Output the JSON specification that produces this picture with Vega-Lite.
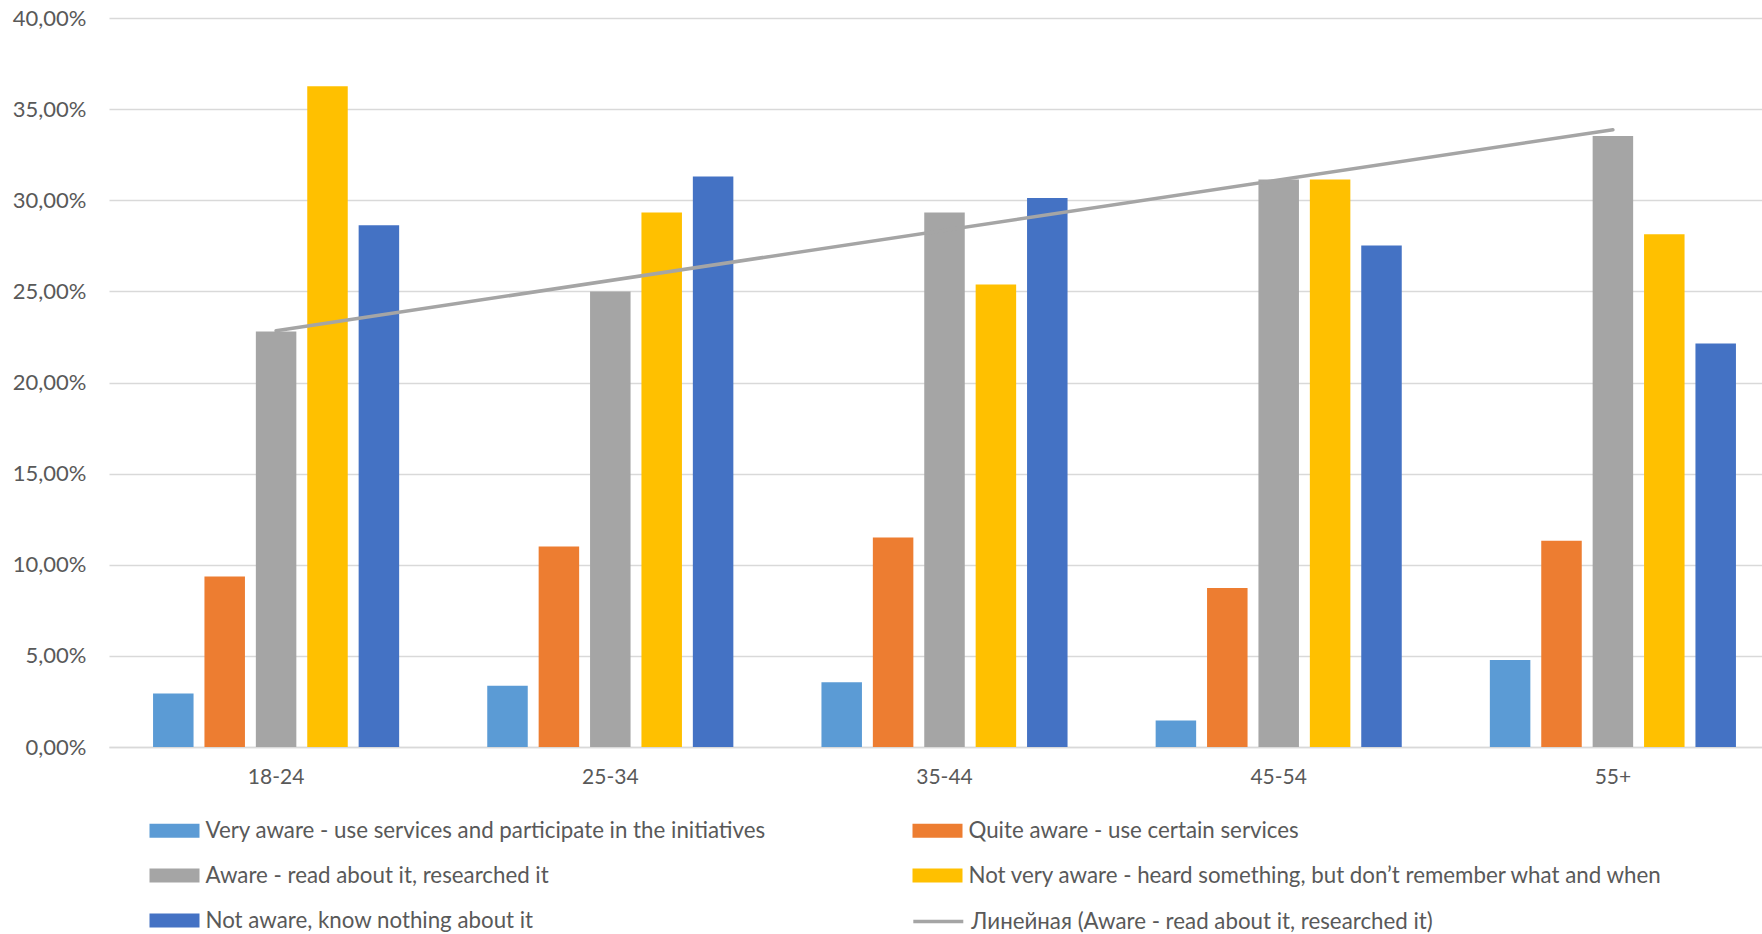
{
  "$schema": "https://vega.github.io/schema/vega-lite/v6.json",
  "autosize": {"type": "none"},
  "padding": {"left": 109, "top": 18, "right": 0, "bottom": 187},
  "width": 1653,
  "height": 729,
  "background": "white",
  "datasets": {
    "bars": [
      {"age": "18-24", "series": "Very aware - use services and participate in the initiatives", "value": 2.93},
      {"age": "18-24", "series": "Quite aware - use certain services", "value": 9.35},
      {"age": "18-24", "series": "Aware - read about it, researched it", "value": 22.8},
      {"age": "18-24", "series": "Not very aware - heard something, but don’t remember what and when", "value": 36.25},
      {"age": "18-24", "series": "Not aware, know nothing about it", "value": 28.63},
      {"age": "25-34", "series": "Very aware - use services and participate in the initiatives", "value": 3.36},
      {"age": "25-34", "series": "Quite aware - use certain services", "value": 11.0},
      {"age": "25-34", "series": "Aware - read about it, researched it", "value": 25.0},
      {"age": "25-34", "series": "Not very aware - heard something, but don’t remember what and when", "value": 29.33},
      {"age": "25-34", "series": "Not aware, know nothing about it", "value": 31.3},
      {"age": "35-44", "series": "Very aware - use services and participate in the initiatives", "value": 3.55},
      {"age": "35-44", "series": "Quite aware - use certain services", "value": 11.5},
      {"age": "35-44", "series": "Aware - read about it, researched it", "value": 29.33},
      {"age": "35-44", "series": "Not very aware - heard something, but don’t remember what and when", "value": 25.38},
      {"age": "35-44", "series": "Not aware, know nothing about it", "value": 30.13},
      {"age": "45-54", "series": "Very aware - use services and participate in the initiatives", "value": 1.45},
      {"age": "45-54", "series": "Quite aware - use certain services", "value": 8.73},
      {"age": "45-54", "series": "Aware - read about it, researched it", "value": 31.14},
      {"age": "45-54", "series": "Not very aware - heard something, but don’t remember what and when", "value": 31.14},
      {"age": "45-54", "series": "Not aware, know nothing about it", "value": 27.52},
      {"age": "55+", "series": "Very aware - use services and participate in the initiatives", "value": 4.78},
      {"age": "55+", "series": "Quite aware - use certain services", "value": 11.32},
      {"age": "55+", "series": "Aware - read about it, researched it", "value": 33.52},
      {"age": "55+", "series": "Not very aware - heard something, but don’t remember what and when", "value": 28.14},
      {"age": "55+", "series": "Not aware, know nothing about it", "value": 22.14}
    ],
    "trend": [
      {"age": "18-24", "trend": "Линейная (Aware - read about it, researched it)", "value": 22.84},
      {"age": "55+", "trend": "Линейная (Aware - read about it, researched it)", "value": 33.87}
    ]
  },
  "encoding": {
    "x": {
      "field": "age",
      "type": "nominal",
      "sort": ["18-24", "25-34", "35-44", "45-54", "55+"],
      "scale": {"range": [0, 1671], "paddingInner": 0, "paddingOuter": 0},
      "axis": {
        "title": null,
        "labelAngle": 0,
        "ticks": false,
        "domainColor": "#D9D9D9",
        "domainWidth": 1.3,
        "labelPadding": 19,
        "labelFont": "Lato",
        "labelFontSize": 21,
        "labelColor": "#595959",
        "grid": false
      }
    },
    "y": {
      "field": "value",
      "type": "quantitative",
      "scale": {"domain": [0, 40], "nice": false, "zero": true},
      "axis": {
        "title": null,
        "values": [0, 5, 10, 15, 20, 25, 30, 35, 40],
        "labelExpr": "replace(format(datum.value, '.2f'), '.', ',') + '%'",
        "ticks": false,
        "domain": false,
        "labelPadding": 23,
        "labelFont": "Lato",
        "labelFontSize": 22,
        "labelColor": "#595959",
        "gridColor": "#D9D9D9",
        "gridWidth": 1.3
      }
    }
  },
  "layer": [
    {
      "data": {"name": "bars"},
      "mark": {"type": "bar"},
      "encoding": {
        "xOffset": {
          "field": "series",
          "type": "nominal",
          "sort": [
            "Very aware - use services and participate in the initiatives",
            "Quite aware - use certain services",
            "Aware - read about it, researched it",
            "Not very aware - heard something, but don’t remember what and when",
            "Not aware, know nothing about it"
          ],
          "scale": {"paddingInner": 0.212, "paddingOuter": 0.857}
        },
        "color": {
          "field": "series",
          "type": "nominal",
          "scale": {
            "domain": [
              "Very aware - use services and participate in the initiatives",
              "Aware - read about it, researched it",
              "Not aware, know nothing about it",
              "Quite aware - use certain services",
              "Not very aware - heard something, but don’t remember what and when"
            ],
            "range": ["#5B9BD5", "#A5A5A5", "#4472C4", "#ED7D31", "#FFC000"]
          },
          "legend": {
            "title": null,
            "orient": "none",
            "legendX": 40.5,
            "legendY": 787.5,
            "columns": 2,
            "columnPadding": 146,
            "rowPadding": 8,
            "padding": 0,
            "symbolType": "M-1,-0.28H1V0.28H-1Z",
            "symbolSize": 2500,
            "symbolStrokeWidth": 0,
            "symbolOpacity": 1,
            "labelOffset": 6,
            "labelFont": "Lato",
            "labelFontSize": 22.3,
            "labelColor": "#595959",
            "labelLimit": 2000
          }
        }
      }
    },
    {
      "data": {"name": "trend"},
      "mark": {"type": "line", "strokeWidth": 3.5, "strokeCap": "round"},
      "encoding": {
        "stroke": {
          "field": "trend",
          "type": "nominal",
          "scale": {"range": ["#A5A5A5"]},
          "legend": {
            "title": null,
            "orient": "none",
            "legendX": 802.3,
            "legendY": 876.5,
            "padding": 0,
            "symbolType": "stroke",
            "symbolSize": 2500,
            "symbolStrokeWidth": 3.5,
            "labelOffset": 6,
            "labelFont": "Lato",
            "labelFontSize": 22.3,
            "labelColor": "#595959",
            "labelLimit": 2000
          }
        }
      }
    }
  ],
  "config": {"view": {"stroke": null}}
}
